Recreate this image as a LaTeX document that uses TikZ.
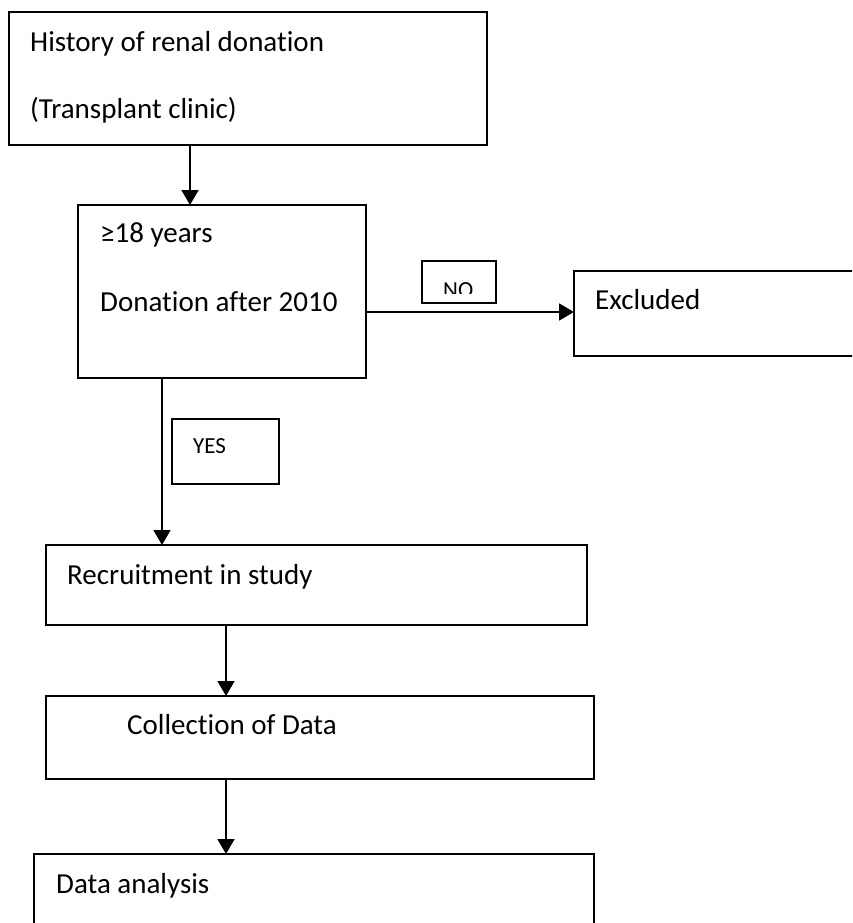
\documentclass[tikz,border=0pt]{standalone}
\usepackage{fontspec}
\setmainfont{Carlito}[Ligatures=NoCommon]
\usetikzlibrary{arrows.meta}
\begin{document}
\begin{tikzpicture}[x=1pt,y=-1pt,
  box/.style={draw, line width=1.8pt, inner sep=0pt, outer sep=0pt, anchor=north west},
  thinbox/.style={box, line width=1.3pt},
  lbl/.style={inner sep=0pt, anchor=base west, font=\fontsize{29}{34}\selectfont},
  small/.style={inner sep=0pt, anchor=base west, font=\fontsize{23}{28}\selectfont},
  arr/.style={line width=1.5pt, -{Triangle[length=15pt,width=17pt]}}]
\useasboundingbox (0,0) rectangle (852,923);
\clip (0,0) rectangle (852,923);
% boxes
\node[box, minimum width=478pt, minimum height=133pt] (b1) at (9,12) {};
\node[box, minimum width=288pt, minimum height=173pt] (b2) at (78,205) {};
\node[thinbox, minimum width=107pt, minimum height=65pt] (yes) at (172,419) {};
\node[thinbox, minimum width=74pt, minimum height=42pt] (no) at (422,261) {};
\node[box, minimum width=300pt, minimum height=85pt] (ex) at (574,271) {};
\node[box, minimum width=541pt, minimum height=80pt] (rec) at (46,545) {};
\node[box, minimum width=548pt, minimum height=83pt] (col) at (46,696) {};
\node[box, minimum width=560pt, minimum height=120pt] (ana) at (34,854) {};
% texts
\node[lbl] (t1a) at (30,52) {History of renal donation};
\node[lbl] (t1b) at (30,118) {(Transplant clinic)};
\node[lbl] (t2a) at (100,242) {≥18 years};
\node[lbl] (t2b) at (100,311) {Donation after 2010};
\node[lbl] (tex) at (595,309) {Excluded};
\node[small] (tyes) at (193,453) {YES};
\begin{scope}
\clip (422,261) rectangle (496,293);
\node[small] (tno) at (443,297) {NO};
\end{scope}
\node[lbl] (trec) at (67,584) {Recruitment in study};
\node[lbl] (tcol) at (127,734) {Collection of Data};
\node[lbl] (tana) at (56,893) {Data analysis};
% connector guides
\coordinate (xa) at (190,0);
\coordinate (xb) at (162,0);
\coordinate (xc) at (226,0);
\coordinate (ya) at (0,312);
% connectors
\draw[arr] (xa |- b1.south) -- (xa |- b2.north);
\draw[arr] (xb |- b2.south) -- (xb |- rec.north);
\draw[arr] (ya -| b2.east) -- (ya -| ex.west);
\draw[arr] (xc |- rec.south) -- (xc |- col.north);
\draw[arr] (xc |- col.south) -- (xc |- ana.north);
\end{tikzpicture}
\end{document}
